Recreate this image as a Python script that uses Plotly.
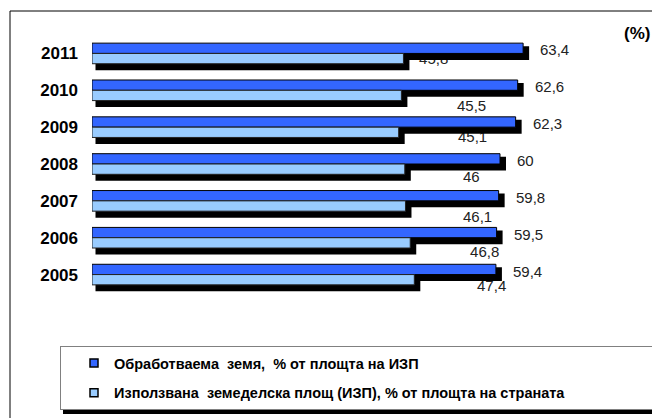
import plotly.graph_objects as go

# data
years = ['2005', '2006', '2007', '2008', '2009', '2010', '2011']
arable = [59.4, 59.5, 59.8, 60, 62.3, 62.6, 63.4]
uaa = [47.4, 46.8, 46.1, 46, 45.1, 45.5, 45.8]
name_arable = 'Обработваема  земя,  % от площта на ИЗП'
name_uaa = 'Използвана  земеделска площ (ИЗП), % от площта на страната'

# where the light labels were dragged to (px right of bar end, px below row centre)
light_dx = [62.7, 59.8, 57.5, 58.2, 59.3, 55.6, 15.6]
light_dy = [11.4, 13.8, 16, 12.5, 9.4, 15.7, 4.6]

W, H = 652, 418
ML, MR, MT, MB = 92, 16, 35, 125
XMAX = 80
px_x = (W - ML - MR) / XMAX          # px per % unit
px_y = (H - MT - MB) / len(years)    # px per category

DARK = '#3366FF'
LIGHT = '#99CCFF'
FONT = 'Arial, Liberation Sans, sans-serif'


def fmt(v):
    return f'{v:g}'.replace('.', ',')


bw = 10.3 / px_y          # bar thickness
sh_dx0 = 3.5 / px_x       # shadow shift
sh_dx1 = 6 / px_x
sh_top = 3 / px_y
sh_bot = 6.5 / px_y

fig = go.Figure()

# light labels, drawn first so the shadows can cover them
ch = 20 / px_y
fig.add_trace(go.Bar(
    y=years, x=[6] * len(years), orientation='h',
    base=[v + (d - 3) / px_x for v, d in zip(uaa, light_dx)],
    offset=[-d / px_y - ch / 2 for d in light_dy], width=ch,
    marker=dict(color='rgba(0,0,0,0)', line=dict(width=0)),
    text=[fmt(v) for v in uaa], textposition='inside', insidetextanchor='start',
    textangle=0, constraintext='none',
    insidetextfont=dict(family=FONT, size=15, color='#222'),
    showlegend=False, hoverinfo='skip'))

# dark series + shadow
fig.add_trace(go.Bar(
    y=years, x=[v + sh_dx1 - sh_dx0 for v in arable], base=sh_dx0, orientation='h',
    offset=-sh_bot, width=bw - sh_top + sh_bot,
    marker=dict(color='black', line=dict(width=0)),
    showlegend=False, hoverinfo='skip'))
fig.add_trace(go.Bar(
    y=years, x=arable, orientation='h', offset=0, width=bw,
    marker=dict(color=DARK, line=dict(color='black', width=1)),
    showlegend=False))

# light series + shadow
fig.add_trace(go.Bar(
    y=years, x=[v + sh_dx1 - sh_dx0 for v in uaa], base=sh_dx0, orientation='h',
    offset=-bw - sh_bot, width=bw - sh_top + sh_bot,
    marker=dict(color='black', line=dict(width=0)),
    showlegend=False, hoverinfo='skip'))
fig.add_trace(go.Bar(
    y=years, x=uaa, orientation='h', offset=-bw, width=bw,
    marker=dict(color=LIGHT, line=dict(color='#222', width=1)),
    showlegend=False))

# legend entries with small square icons
pad = '\u00a0' * 40
for nm, col, grp in [(name_arable, DARK, 'a'), (name_uaa, LIGHT, 'b')]:
    fig.add_trace(go.Scatter(
        x=[None], y=[years[0]], mode='markers', name=nm + pad, legendgroup=grp,
        marker=dict(symbol='square', size=8, color=col, line=dict(color='black', width=1.5)),
        hoverinfo='skip'))

# value labels of the dark bars (category index on y)
for i, v in enumerate(arable):
    fig.add_annotation(x=v, y=i, text=fmt(v), showarrow=False,
                       xanchor='left', xshift=15, yshift=3.5,
                       font=dict(family=FONT, size=15, color='#222'))


def paper_x(px):
    return (px - ML) / (W - ML - MR)


def paper_y(py):
    return (H - MB - py) / (H - MT - MB)


fig.add_annotation(x=paper_x(652), y=paper_y(33), xref='paper', yref='paper',
                   text='<b>(%)</b>', showarrow=False, xanchor='right', yanchor='middle',
                   font=dict(family=FONT, size=17, color='black'))

# outer chart frame (only left and top edges are inside the picture)
fig.add_shape(type='rect', xref='paper', yref='paper',
              x0=paper_x(10), x1=paper_x(W + 40), y0=paper_y(H + 40), y1=paper_y(11),
              line=dict(color='black', width=1), fillcolor='rgba(0,0,0,0)', layer='below')
# legend shadow
fig.add_shape(type='rect', xref='paper', yref='paper',
              x0=paper_x(63), x1=paper_x(W + 40), y0=paper_y(414), y1=paper_y(349),
              line=dict(width=0), fillcolor='black', layer='above')

fig.update_layout(
    width=W, height=H,
    margin=dict(l=ML, r=MR, t=MT, b=MB, autoexpand=False),
    paper_bgcolor='white', plot_bgcolor='white',
    barmode='overlay',
    font=dict(family=FONT, color='black'),
    xaxis=dict(range=[0, XMAX], visible=False),
    yaxis=dict(type='category', categoryorder='array', categoryarray=years,
               range=[-0.5, len(years) - 0.5], autorange=False,
               showgrid=False, zeroline=False, showline=False,
               ticks='', ticklabelstandoff=13,
               tickfont=dict(family=FONT, size=17, color='black', weight='bold')),
    legend=dict(x=paper_x(60), y=paper_y(346), xanchor='left', yanchor='top',
                bgcolor='white', bordercolor='#808080', borderwidth=1,
                indentation=13, tracegroupgap=8,
                font=dict(family=FONT, size=14.5, color='black', weight='bold')),
    showlegend=True,
)

fig.write_html('out.html', config={'displayModeBar': False},
               post_script="document.body.style.margin='0';")
